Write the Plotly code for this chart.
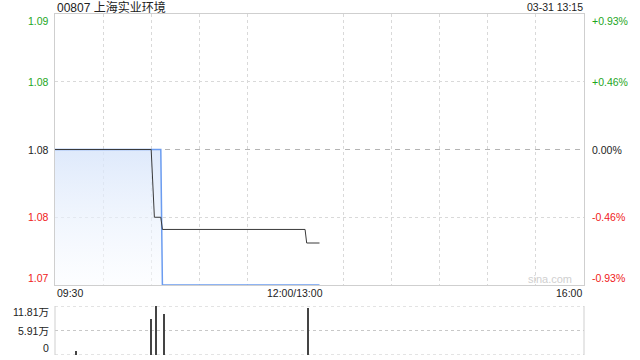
import plotly.graph_objects as go

DAY = "2025-03-31 "
title_text = "00807 上海实业环境"
stamp_text = "03-31 13:15"
watermark = "sina.com"

# price (black) line
price_times = ["09:30", "10:30", "10:32", "10:36", "10:37", "13:06", "13:07", "13:15"]
price_values = [1.08, 1.08, 1.075, 1.075, 1.0741, 1.0741, 1.0731, 1.0731]
# average (blue) line
avg_times = ["09:30", "10:36", "10:37", "13:15"]
avg_values = [1.08, 1.08, 1.07, 1.07]
# volume bars
vol_times = ["09:43", "10:30", "10:33", "10:38", "13:08"]
vol_values = [9600, 86000, 118100, 99500, 114000]

prev_close = 1.08
y_ticks = [1.09, 1.085, 1.08, 1.075, 1.07]
y_labels = ["1.09", "1.08", "1.08", "1.08", "1.07"]
pct_labels = ["+0.93%", "+0.46%", "0.00%", "-0.46%", "-0.93%"]
vol_ticks = [118100, 59050, 0]
vol_labels = ["11.81万", "5.91万", "0"]
x_label_times = ["09:30", "12:00", "16:00"]
x_labels = ["09:30", "12:00/13:00", "16:00"]
grid_times = ["10:00", "10:30", "11:00", "11:30", "12:00", "13:30", "14:00", "14:30", "15:00", "15:30"]

FONT = "Liberation Sans, Arial, Noto Sans CJK SC, sans-serif"
GREEN = "#1ea61e"
RED = "#f02020"
BLACK = "#222222"

def t(s):
    return DAY + s + ":00"

X0, X1 = 55 / 640, 584 / 640
main_dom = [(360 - 285) / 360, (360 - 14) / 360]
vol_dom = [(360 - 355) / 360, (360 - 306) / 360]

fig = go.Figure()

fig.add_trace(go.Scatter(
    x=[t(s) for s in avg_times], y=avg_values, mode="lines",
    line=dict(color="#6b9cf0", width=1.5),
    fill="tozeroy",
    fillgradient=dict(type="vertical",
                      colorscale=[[0, "rgba(250,252,255,0.5)"], [1, "rgba(214,228,250,0.8)"]],
                      start=1.07, stop=1.08),
    hoverinfo="skip", xaxis="x", yaxis="y"))

fig.add_trace(go.Scatter(
    x=[t(s) for s in price_times], y=price_values, mode="lines",
    line=dict(color="#3a3a3a", width=1),
    hoverinfo="skip", xaxis="x", yaxis="y"))

fig.add_trace(go.Bar(
    x=[t(s) for s in vol_times], y=vol_values, width=30000,
    marker=dict(color="#444444", line=dict(width=0)),
    hoverinfo="skip", xaxis="x2", yaxis="y2"))

rb = [dict(bounds=[12, 13], pattern="hour")]
xr = [t("09:30"), t("16:00")]

fig.update_layout(
    width=640, height=360, margin=dict(l=0, r=0, t=0, b=0),
    paper_bgcolor="white", plot_bgcolor="white", showlegend=False,
    bargap=0,
    xaxis=dict(domain=[X0, X1], type="date", range=xr, rangebreaks=rb,
               tickvals=[t(s) for s in grid_times], showticklabels=False, ticks="",
               showgrid=True, gridcolor="#d9d9d9", griddash="dot", gridwidth=1,
               showline=True, mirror=True, linecolor="#cfcfcf", linewidth=1,
               zeroline=False, anchor="y", fixedrange=True),
    yaxis=dict(domain=main_dom, range=[1.07, 1.09],
               tickvals=[1.085, 1.075], showticklabels=False, ticks="",
               showgrid=True, gridcolor="#d9d9d9", griddash="dot", gridwidth=1,
               showline=True, mirror=True, linecolor="#cfcfcf", linewidth=1,
               zeroline=False, anchor="x"),
    xaxis2=dict(domain=[X0, X1], type="date", range=xr, rangebreaks=rb,
                showticklabels=False, ticks="", showgrid=False, showline=False,
                zeroline=False, anchor="y2"),
    yaxis2=dict(domain=vol_dom, range=[0, 118100], showticklabels=False, ticks="",
                showgrid=False, showline=False, zeroline=False, anchor="x2"),
)

shapes = []
# previous close dashed line
shapes.append(dict(type="line", xref="x domain", yref="y", x0=0, x1=1,
                   y0=prev_close, y1=prev_close,
                   line=dict(color="#b4b4b4", width=1, dash="5px,5px"), layer="below"))
# volume panel frame
for v in vol_ticks:
    shapes.append(dict(type="line", xref="x2 domain", yref="y2", x0=0, x1=1, y0=v, y1=v,
                       line=dict(color="#c8c8c8", width=1, dash="dot"), layer="below"))
for xd in [0, 1]:
    shapes.append(dict(type="line", xref="x2 domain", yref="y2 domain", x0=xd, x1=xd, y0=0, y1=1,
                       line=dict(color="#cfcfcf", width=1), layer="below"))
fig.update_layout(shapes=shapes)

ann = []
ann.append(dict(text=title_text, xref="paper", yref="paper", x=55 / 640, y=(360 - 7) / 360,
                xanchor="left", yanchor="middle", showarrow=False,
                font=dict(family=FONT, size=12, color=BLACK)))
ann.append(dict(text=stamp_text, xref="paper", yref="paper", x=585 / 640, y=(360 - 7) / 360,
                xanchor="right", yanchor="middle", showarrow=False,
                font=dict(family=FONT, size=10.5, color=BLACK)))
n = len(y_ticks)
for i, (v, lab, pl) in enumerate(zip(y_ticks, y_labels, pct_labels)):
    if v > prev_close + 1e-9:
        c = GREEN
    elif v < prev_close - 1e-9:
        c = RED
    else:
        c = BLACK
    shift = -7 if i == 0 else (7 if i == n - 1 else 0)
    ann.append(dict(text=lab, xref="paper", yref="y", x=51 / 640, y=v, yshift=shift,
                    xanchor="right", yanchor="middle", showarrow=False,
                    font=dict(family=FONT, size=10.5, color=c)))
    ann.append(dict(text=pl, xref="paper", yref="y", x=590 / 640, y=v, yshift=shift,
                    xanchor="left", yanchor="middle", showarrow=False,
                    font=dict(family=FONT, size=10.5, color=c)))
anchors = ["left", "center", "right"]
for s, lab, a in zip(x_label_times, x_labels, anchors):
    ann.append(dict(text=lab, xref="x", yref="paper", x=t(s), y=(360 - 293) / 360,
                    xanchor=a, yanchor="middle", showarrow=False,
                    font=dict(family=FONT, size=10.5, color=BLACK)))
vshift = [-6, 0, 7]
for v, lab, sh in zip(vol_ticks, vol_labels, vshift):
    ann.append(dict(text=lab, xref="paper", yref="y2", x=51 / 640, y=v, yshift=sh,
                    xanchor="right", yanchor="middle", showarrow=False,
                    font=dict(family=FONT, size=10.5, color=BLACK)))
ann.append(dict(text=watermark, xref="paper", yref="paper", x=574 / 640, y=(360 - 279) / 360,
                xanchor="right", yanchor="middle", showarrow=False,
                font=dict(family=FONT, size=11, color="#d0d0d0")))
fig.update_layout(annotations=ann)

fig.write_html("out.html")
